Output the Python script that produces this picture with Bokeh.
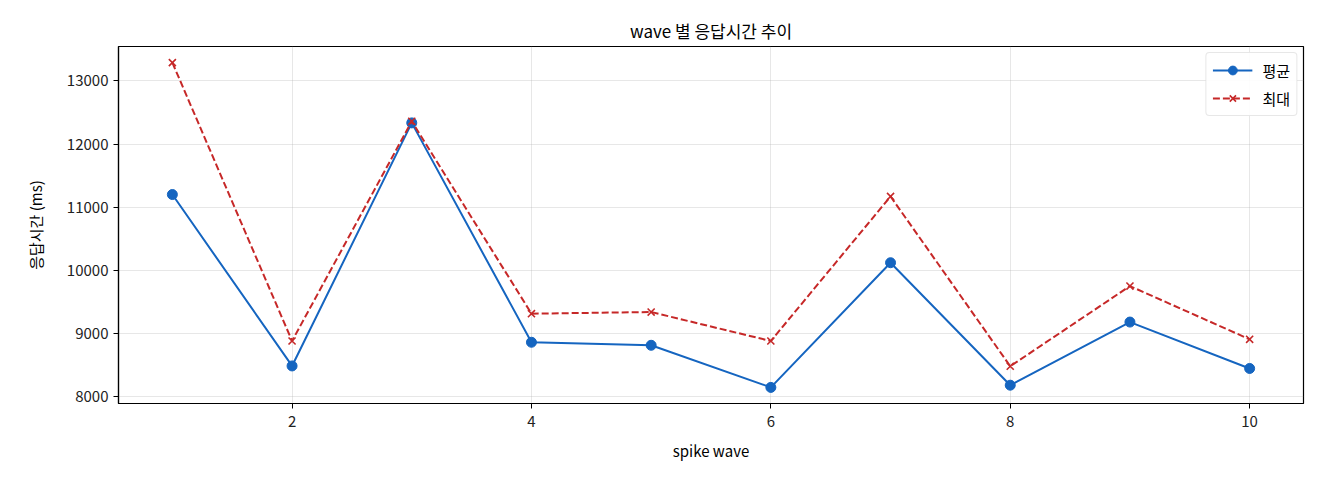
from bokeh.plotting import figure
from bokeh.models import ColumnDataSource, Legend, LegendItem, FixedTicker
from bokeh.embed import file_html
from bokeh.resources import INLINE

# data
waves = [1, 2, 3, 4, 5, 6, 7, 8, 9, 10]
mean_ms = [11200, 8485, 12335, 8860, 8812, 8145, 10120, 8180, 9180, 8445]
max_ms = [13290, 8880, 12360, 9313, 9339, 8880, 11170, 8480, 9750, 8907]

x_ticks = [2, 4, 6, 8, 10]
y_ticks = [8000, 9000, 10000, 11000, 12000, 13000]

FONT = "Noto Sans CJK KR"
BLUE = "#1565c0"
RED = "#c62828"

source = ColumnDataSource(data=dict(wave=waves, mean=mean_ms, max=max_ms))

p = figure(
    frame_width=1185,
    frame_height=357,
    min_border_left=118,
    min_border_right=8,
    min_border_top=46,
    min_border_bottom=58,
    x_range=(0.55, 10.45),
    y_range=(7890, 13545),
    output_backend="svg",
    toolbar_location=None,
    title="wave 별 응답시간 추이",
)

p.title.align = "center"
p.title.text_font = FONT
p.title.text_font_size = "17px"
p.title.text_font_style = "normal"
p.title.text_color = "black"
p.title.offset = 0
p.title.standoff = 7

mean_line = p.line("wave", "mean", source=source, line_color=BLUE, line_width=2)
mean_pts = p.scatter("wave", "mean", source=source, marker="circle", size=10,
                     fill_color=BLUE, line_color=BLUE)
max_line = p.line("wave", "max", source=source, line_color=RED, line_width=2,
                  line_dash="7 3")
max_pts = p.scatter("wave", "max", source=source, marker="x", size=10,
                    line_color=RED, line_width=1.6)

legend = Legend(items=[
    LegendItem(label="평균", renderers=[mean_line, mean_pts]),
    LegendItem(label="최대", renderers=[max_line, max_pts]),
], location="top_right")
legend.margin = 6
legend.padding = 6
legend.spacing = 6
legend.glyph_width = 40
legend.glyph_height = 22
legend.label_text_font = FONT
legend.label_text_font_size = "15px"
legend.label_text_color = "black"
legend.label_standoff = 10
legend.border_line_color = "#d0d0d0"
legend.border_radius = 4
legend.background_fill_alpha = 0.9
p.add_layout(legend)

p.xaxis.ticker = FixedTicker(ticks=x_ticks)
p.yaxis.ticker = FixedTicker(ticks=y_ticks)
p.xaxis.axis_label = "spike wave"
p.yaxis.axis_label = "응답시간 (ms)"

for ax in (p.xaxis, p.yaxis):
    ax.axis_label_text_font = FONT
    ax.axis_label_text_font_size = "15px"
    ax.axis_label_text_font_style = "normal"
    ax.axis_label_text_color = "black"
    ax.major_label_text_font = FONT
    ax.major_label_text_font_size = "15px"
    ax.major_label_text_color = "#222222"
    ax.axis_line_color = "black"
    ax.axis_line_width = 1.2
    ax.major_tick_line_color = "black"
    ax.major_tick_out = 5
    ax.major_tick_in = 0
    ax.minor_tick_line_color = None

p.xaxis.major_label_standoff = 7
p.xaxis.axis_label_standoff = 10
p.yaxis.axis_label_standoff = 18

p.grid.grid_line_color = "#b0b0b0"
p.grid.grid_line_alpha = 0.3
p.outline_line_color = "black"
p.outline_line_width = 1.2
p.outline_line_alpha = 1

open("out.html", "w").write(file_html(p, INLINE))
